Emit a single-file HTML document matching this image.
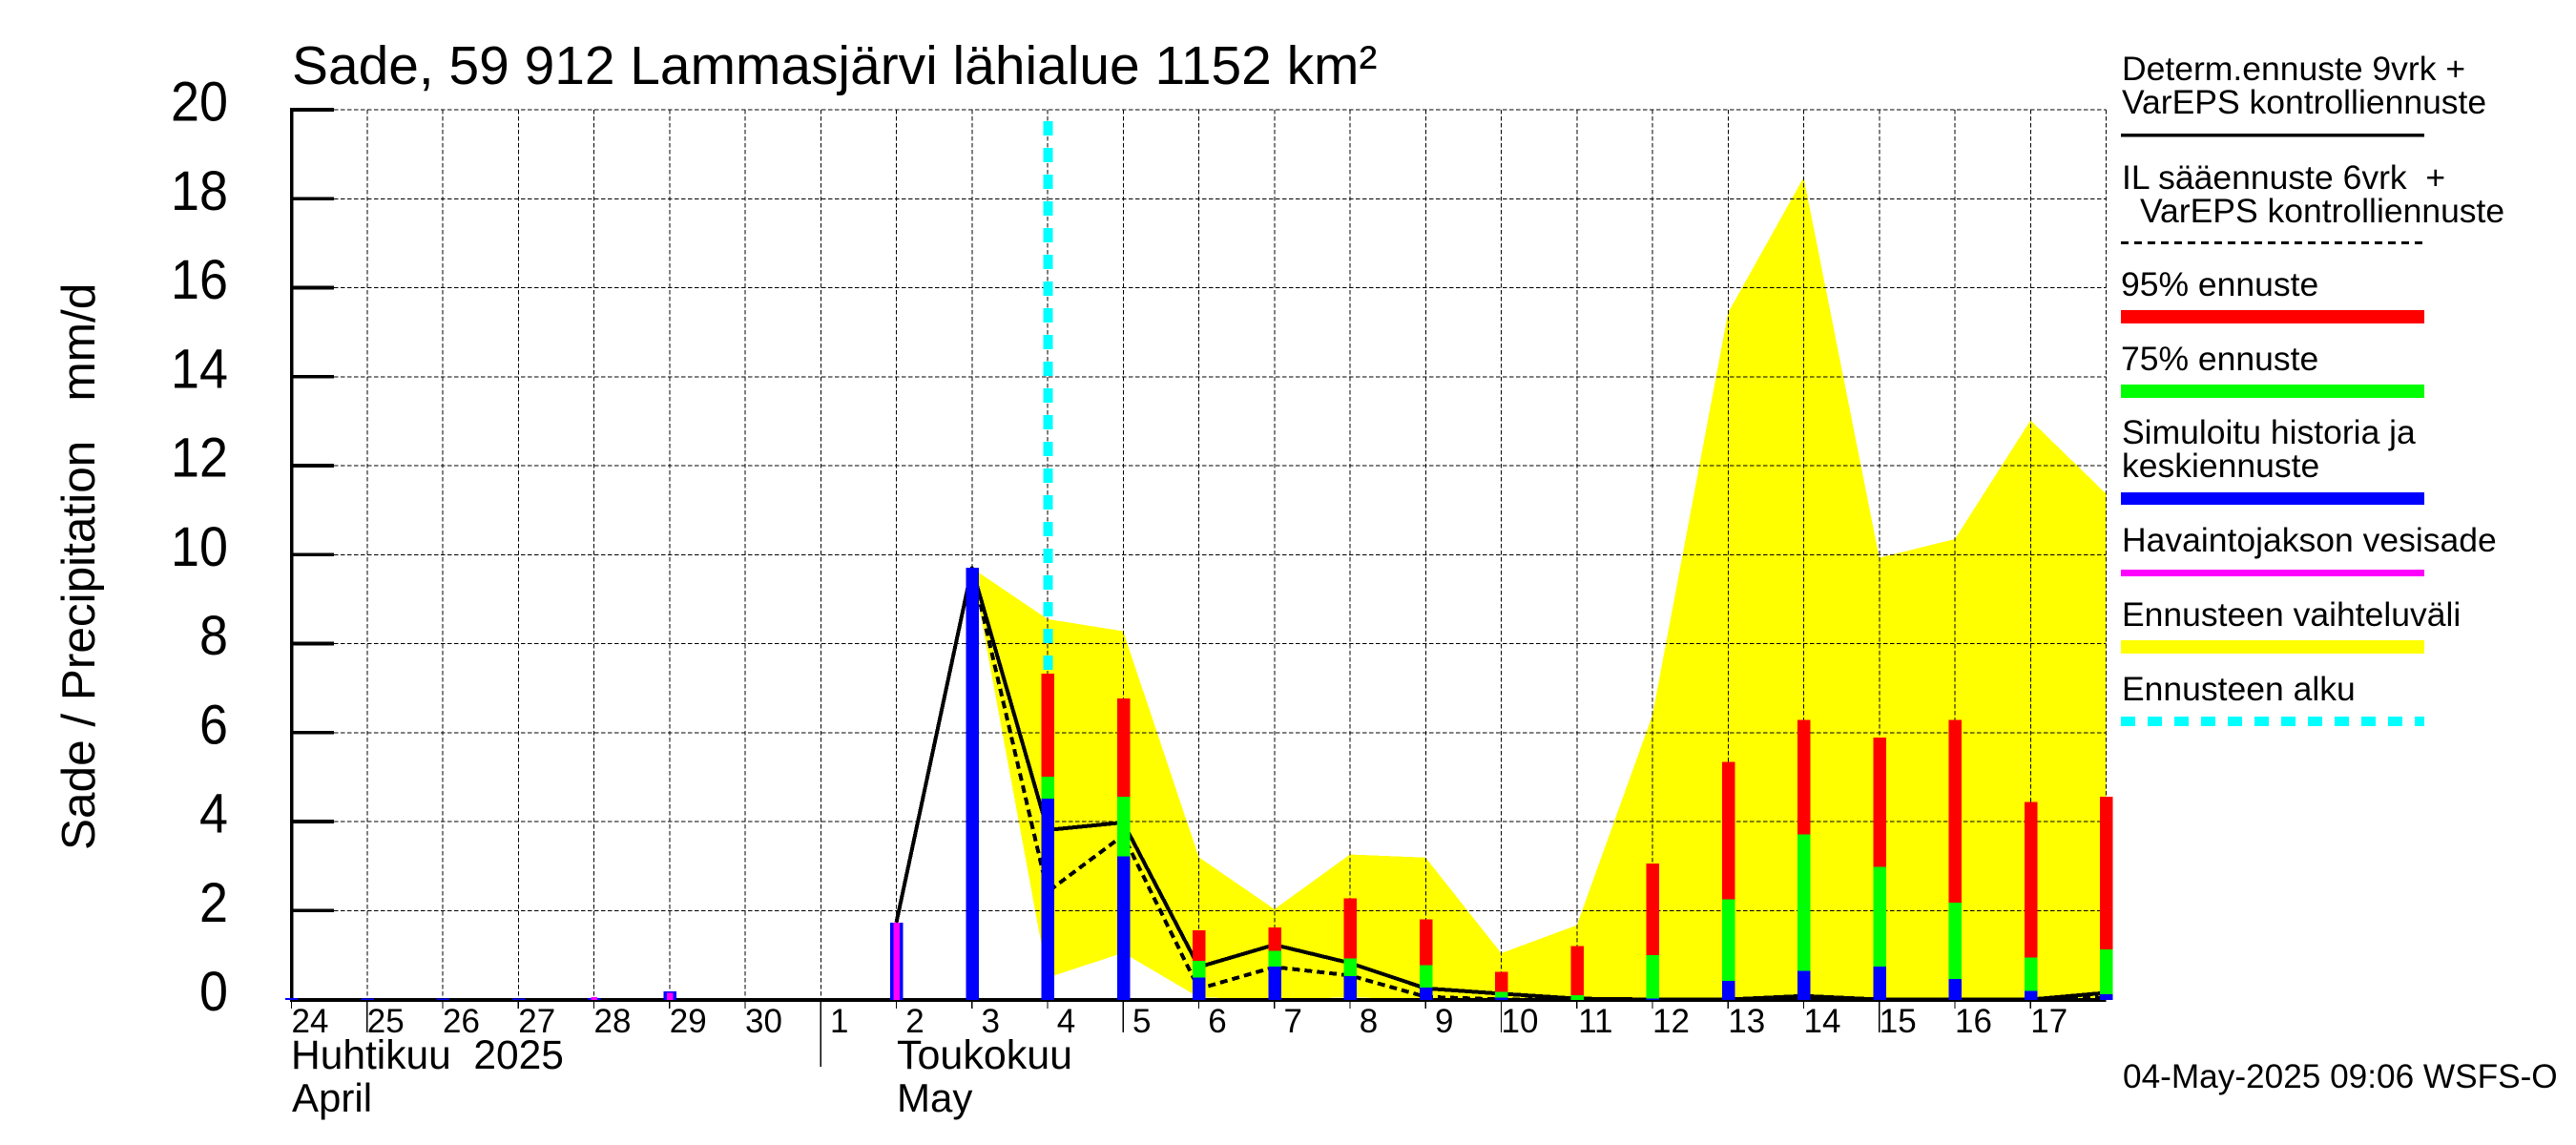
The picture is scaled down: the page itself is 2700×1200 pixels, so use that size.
<!DOCTYPE html>
<html lang="fi">
<head>
<meta charset="utf-8">
<title>Sade, 59 912 Lammasjärvi lähialue</title>
<style>
html,body{margin:0;padding:0;background:#fff;}
svg{display:block;}
text{font-family:"Liberation Sans",Arial,sans-serif;fill:#000;}
</style>
</head>
<body>
<svg id="chart" xmlns="http://www.w3.org/2000/svg" width="2700" height="1200" viewBox="0 0 2700 1200">
  <rect x="0" y="0" width="2700" height="1200" fill="#fff"/>
  <g id="band"></g>
  <g id="grid"></g>
  <g id="start"></g>
  <g id="axes"></g>
  <g id="lines"></g>
  <g id="bars"></g>
  <g id="labels"></g>

  <text x="306" y="88" font-size="56.9">Sade, 59 912 Lammasjärvi lähialue 1152 km²</text>
  <text transform="translate(99,891) rotate(-90)" font-size="49.5" xml:space="preserve">Sade / Precipitation   mm/d</text>
  <text x="305" y="1120" font-size="42.5" xml:space="preserve">Huhtikuu  2025</text>
  <text x="306" y="1165" font-size="42">April</text>
  <text x="940" y="1120" font-size="43">Toukokuu</text>
  <text x="940" y="1165" font-size="42">May</text>
  <text x="2225" y="1140" font-size="35.2">04-May-2025 09:06 WSFS-O</text>

  <g font-size="35.5">
    <g>
      <text x="2224" y="84" xml:space="preserve">Determ.ennuste 9vrk +</text>
      <text x="2224" y="119">VarEPS kontrolliennuste</text>
      <rect x="2223" y="140" width="318" height="3.5" fill="#000" shape-rendering="crispEdges"/>
    </g>
    <g>
      <text x="2224" y="198" xml:space="preserve">IL sääennuste 6vrk  +</text>
      <text x="2243" y="233">VarEPS kontrolliennuste</text>
      <line x1="2223" y1="254.5" x2="2541" y2="254.5" stroke="#000" stroke-width="3.4" stroke-dasharray="8 6" shape-rendering="crispEdges"/>
    </g>
    <g>
      <text x="2223" y="310">95% ennuste</text>
      <rect x="2223" y="325" width="318" height="14" fill="#f00" shape-rendering="crispEdges"/>
    </g>
    <g>
      <text x="2223" y="388">75% ennuste</text>
      <rect x="2223" y="403" width="318" height="14" fill="#0f0" shape-rendering="crispEdges"/>
    </g>
    <g>
      <text x="2224" y="465">Simuloitu historia ja</text>
      <text x="2224" y="500">keskiennuste</text>
      <rect x="2223" y="516" width="318" height="13" fill="#00f" shape-rendering="crispEdges"/>
    </g>
    <g>
      <text x="2224" y="578">Havaintojakson vesisade</text>
      <rect x="2223" y="597" width="318" height="7" fill="#f0f" shape-rendering="crispEdges"/>
    </g>
    <g>
      <text x="2224" y="656">Ennusteen vaihteluväli</text>
      <rect x="2223" y="671" width="318" height="14" fill="#ff0" shape-rendering="crispEdges"/>
    </g>
    <g>
      <text x="2224" y="734">Ennusteen alku</text>
      <line x1="2223" y1="756" x2="2541" y2="756" stroke="#0ff" stroke-width="10" stroke-dasharray="15 13" shape-rendering="crispEdges"/>
    </g>
  </g>
</svg>
<script>
// Category labels, one per day slot (the final slot has no printed label)
const dayLabels = ['24','25','26','27','28','29','30','1','2','3','4','5','6','7','8','9','10','11','12','13','14','15','16','17',''];
const yTickValues = [0,2,4,6,8,10,12,14,16,18,20];
const longTickDays = ['25','5','10','15'];
const monthStartDays = ['1'];
const forecastStartDay = '4';

// Simulated history and mean forecast (blue), one value per day slot
const simulated = [0.03,0.02,0.02,0.02,0.03,0.18,0,0,1.73,9.71,4.52,3.22,0.49,0.74,0.53,0.27,0.04,0,0.02,0.42,0.64,0.74,0.46,0.19,0.12];
// Observed precipitation (magenta), null when there is none
const observed = [0,0,0,0,0.05,0.15,0,0,1.73,null,null,null,null,null,null,null,null,null,null,null,null,null,null,null,null];
// Forecast percentiles, null before the forecast starts
const q75 = [null,null,null,null,null,null,null,null,null,null,5.01,4.56,0.87,1.09,0.92,0.77,0.17,0.10,1.00,2.25,3.71,2.98,2.18,0.94,1.13];
const q95 = [null,null,null,null,null,null,null,null,null,null,7.33,6.77,1.56,1.62,2.27,1.80,0.62,1.20,3.06,5.34,6.28,5.89,6.28,4.44,4.56];
// Forecast range band
const rangeUpper = [null,null,null,null,null,null,null,null,null,9.7,8.55,8.28,3.2,2.03,3.26,3.19,1.04,1.67,6.39,15.44,18.48,9.93,10.35,13.02,11.37];
const rangeLower = [null,null,null,null,null,null,null,null,null,9.7,0.49,1.05,0.05,0,0.05,0,0,0,0,0,0,0,0,0,0];
// Deterministic (solid) and IL (dashed) forecast lines
const deterministic = [null,null,null,null,null,null,null,null,1.73,9.7,3.81,3.98,0.73,1.23,0.82,0.25,0.13,0.02,0,0,0.08,0,0,0,0.15];
const ilForecast = [null,null,null,null,null,null,null,null,null,9.7,2.42,3.69,0.24,0.73,0.54,0.06,0,0,0,0,0.03,0,0,0,0.05];

const X0 = 305.5, X_STEP = 79.25, Y0 = 1047.5, Y_UNIT = 46.62;
function xAt(i){ return X0 + X_STEP * i; }
function yAt(v){ return Y0 - Y_UNIT * v; }

const NS = 'http://www.w3.org/2000/svg';
function make(tag, attrs, parent){
  const node = document.createElementNS(NS, tag);
  for (const k in attrs) node.setAttribute(k, attrs[k]);
  parent.appendChild(node);
  return node;
}
const layerBand = document.getElementById('band');
const layerGrid = document.getElementById('grid');
const layerStart = document.getElementById('start');
const layerAxes = document.getElementById('axes');
const layerLines = document.getElementById('lines');
const layerBars = document.getElementById('bars');
const layerLabels = document.getElementById('labels');
const lastX = xAt(dayLabels.length - 1);

// Forecast range band
const upperPts = [];
const lowerPts = [];
rangeUpper.forEach(function(v, i){
  if (v !== null) upperPts.push(xAt(i) + ',' + yAt(v));
});
rangeLower.forEach(function(v, i){
  if (v !== null) lowerPts.unshift(xAt(i) + ',' + yAt(v));
});
const bandPoly = make('polygon', {points: upperPts.concat(lowerPts).join(' '), fill: '#ff0', 'shape-rendering': 'crispEdges'}, layerBand);



// Grid
yTickValues.forEach(function(v){
  if (v === 0) return;
  const g = make('line', {x1: 350, x2: lastX, y1: yAt(v), y2: yAt(v), stroke: '#000', 'stroke-width': 1, 'stroke-dasharray': '4.5 2.5', 'shape-rendering': 'crispEdges'}, layerGrid);
  
  
});
dayLabels.forEach(function(d, i){
  if (i === 0) return;
  const g = make('line', {x1: xAt(i), x2: xAt(i), y1: yAt(20), y2: Y0, stroke: '#000', 'stroke-width': 1, 'stroke-dasharray': '4.5 2.5', 'shape-rendering': 'crispEdges'}, layerGrid);
  
  
});

// Forecast start marker
const startX = xAt(dayLabels.indexOf(forecastStartDay)) + 0.5;
const startLine = make('line', {x1: startX, x2: startX, y1: 127, y2: Y0, stroke: '#0ff', 'stroke-width': 10, 'stroke-dasharray': '15 13', 'shape-rendering': 'crispEdges'}, layerStart);



// Axes
const yAxis = make('rect', {x: 304, y: yAt(20) - 1.8, width: 3.5, height: Y0 - yAt(20) + 3, fill: '#000', 'shape-rendering': 'crispEdges'}, layerAxes);


const xAxis = make('rect', {x: 304, y: 1046, width: lastX - 304, height: 4, fill: '#000', 'shape-rendering': 'crispEdges'}, layerAxes);


yTickValues.forEach(function(v){
  if (v !== 0) {
    const t = make('rect', {x: 304, y: yAt(v) - 1.9, width: 46, height: 3.7, fill: '#000', 'shape-rendering': 'crispEdges'}, layerAxes);
    
    
  }
  const lab = make('text', {transform: 'translate(239,' + (yAt(v) + 11.5) + ') scale(0.93,1)', 'font-size': 58, 'text-anchor': 'end'}, layerLabels);
  lab.textContent = String(v);
  
  
});
dayLabels.forEach(function(d, i){
  if (d === '') return;
  let end = 1057;
  if (longTickDays.indexOf(d) >= 0) end = 1082;
  if (monthStartDays.indexOf(d) >= 0) end = 1118;
  const t = make('line', {x1: xAt(i), x2: xAt(i), y1: 1048, y2: end, stroke: '#000', 'stroke-width': 1.2, 'shape-rendering': 'crispEdges'}, layerAxes);
  
  
  const lab = make('text', {x: xAt(i) + 19.5, y: 1082, 'font-size': 35, 'text-anchor': 'middle'}, layerLabels);
  lab.textContent = d;
  
  
});

// Forecast lines
function linePoints(series){
  const pts = [];
  series.forEach(function(v, i){
    if (v !== null) pts.push(xAt(i) + ',' + yAt(v));
  });
  return pts.join(' ');
}
const solidLine = make('polyline', {points: linePoints(deterministic), fill: 'none', stroke: '#000', 'stroke-width': 4, 'stroke-linejoin': 'round', 'shape-rendering': 'crispEdges'}, layerLines);


const dashLine = make('polyline', {points: linePoints(ilForecast), fill: 'none', stroke: '#000', 'stroke-width': 4, 'stroke-dasharray': '8 5', 'shape-rendering': 'crispEdges'}, layerLines);



// Bars
const BAR_L = 6.5, BAR_W = 13.5, BAR_BOTTOM = 1048;
function drawBar(i, value, fill, name, left, width){
  const top = yAt(value);
  const b = make('rect', {x: xAt(i) - left, y: top, width: width, height: BAR_BOTTOM - top, fill: fill, 'shape-rendering': 'crispEdges'}, layerBars);
  
  
}
dayLabels.forEach(function(d, i){
  if (q95[i] !== null) drawBar(i, q95[i], '#f00', 'bar-95-percentile', BAR_L, BAR_W);
  if (q75[i] !== null) drawBar(i, q75[i], '#0f0', 'bar-75-percentile', BAR_L, BAR_W);
  if (simulated[i] > 0) drawBar(i, simulated[i], '#00f', 'bar-simulated', BAR_L, BAR_W);
  if (observed[i] !== null && observed[i] > 0) drawBar(i, observed[i], '#f0f', 'bar-observed', 3, 6.5);
});
</script>
</body>
</html>
